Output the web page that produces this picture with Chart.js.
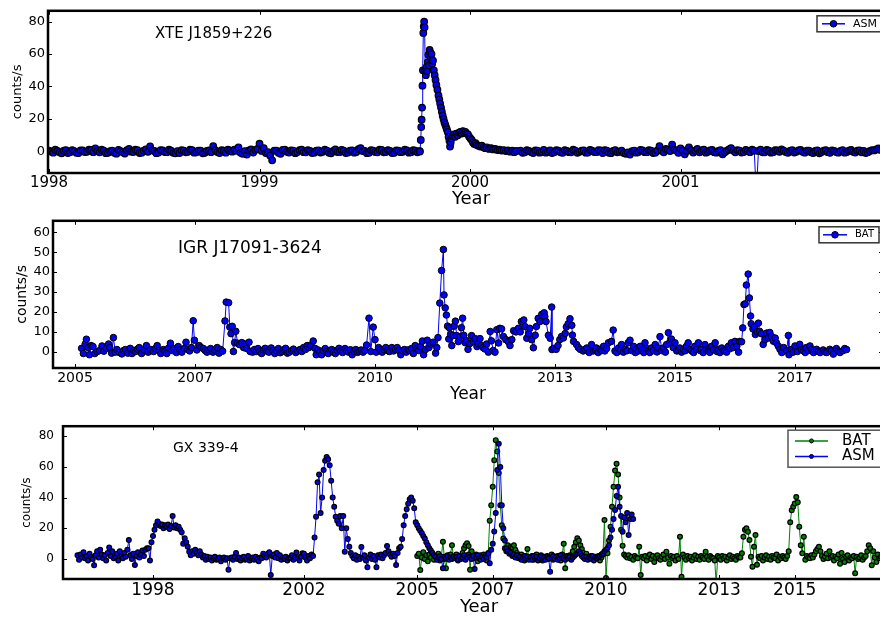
<!DOCTYPE html>
<html>
<head>
<meta charset="utf-8">
<title>X-ray light curves</title>
<script src="https://cdn.jsdelivr.net/npm/chart.js@4.4.1/dist/chart.umd.min.js"></script>
<style>
    html, body { margin: 0; padding: 0; background: #fff; }
    body { width: 880px; height: 618px; overflow: hidden; position: relative; }
    canvas { position: absolute; left: 0; }
    #panel-j1859 { top: 0; }
    #panel-igr { top: 210px; }
    #panel-gx { top: 410px; }
</style>
</head>
<body>
<canvas id="panel-j1859" width="900" height="210"></canvas>
<canvas id="panel-igr" width="900" height="200"></canvas>
<canvas id="panel-gx" width="900" height="208"></canvas>
<script>
// XTE J1859+226 (ASM), quiet part before the outburst, one value every 0.01 yr
const asmJ1859QuietStart = 1998.00;
const asmJ1859Step = 0.01;
const asmJ1859Quiet = [
    0.5, -0.2, -0.8, 1.0, 0.3, -0.6, -1.2, 0.4, 0.8, -1.0,
    -0.5, 0.7, 0.2, -0.9, -1.0, 0.6, 0.6, -0.4, -0.3, 1.1,
    0.9, -0.5, 1.8, 0.3, -0.6, 1.0, 0.4, -1.1, -0.9, 0.2,
    0.5, -0.8, -1.4, 0.9, 0.2, -0.6, -1.3, 0.7, 1.5, -0.2,
    -0.4, 1.0, 0.7, -1.0, -0.8, 0.5, 1.2, -0.3, 3.0, 0.6,
    0.3, -1.1, -0.7, 0.8, 0.6, -0.4, -0.5, 1.0, 0.4, -0.9,
    -1.2, 0.2, -1.0, 0.7, 0.5, -0.6, -0.3, 1.1, 0.8, -0.8,
    -0.6, 0.5, 0.4, -1.2, -0.9, 0.3, 0.6, -0.5, 3.2, 0.8,
    -0.4, -1.0, 0.7, 0.4, -0.8, 1.1, 0.5, -0.2, 1.0, 0.4,
    2.5, -0.9, -1.5, 0.2, -2.0, 0.6, 1.2, -0.7, 0.8, 1.5,
    4.8, 0.3, 2.0, -1.0, -0.5, -2.5, -5.5, 0.5, 0.4, -0.8,
    -1.5, 0.9, 1.0, -0.3, -0.7, 0.6, 0.5, -1.1, -0.4, 0.7,
    1.0, -0.5, -0.6, 0.8, 0.3, -1.0, -0.8, 0.4, 0.6, -0.7,
    -0.3, 1.0, 0.5, -0.9, -1.2, 0.3, 1.2, -0.4, -0.5, 0.9,
    0.4, -1.0, -0.7, 0.5, 0.6, -0.8, -0.4, 1.4, 2.0, 0.2,
    0.3, -1.1, -0.8, 0.7, 0.5, -0.4, -0.6, 1.0, 0.9, -0.6,
    -0.4, 0.8, 0.3, -1.0, -0.9, 0.6, 0.5, -0.5, -0.3, 1.0,
    0.6, -0.8, -0.5, 0.7, 0.4, -0.6, 0.2
];

// the 1999 outburst [year, counts/s]
const asmJ1859Outburst = [
    [1999.762, 0.0], [1999.766, 7.0], [1999.768, 15.0], [1999.770, 19.5], [1999.772, 27.0],
    [1999.774, 40.5], [1999.776, 50.0], [1999.778, 73.0], [1999.780, 77.0], [1999.782, 80.0],
    [1999.784, 76.5], [1999.787, 50.0], [1999.790, 47.0], [1999.793, 52.0], [1999.796, 49.5],
    [1999.799, 55.0], [1999.802, 59.5], [1999.805, 53.0], [1999.808, 62.5], [1999.811, 61.0],
    [1999.814, 57.5], [1999.817, 60.0], [1999.820, 54.0], [1999.824, 56.0], [1999.828, 50.0],
    [1999.832, 47.0], [1999.836, 44.0], [1999.840, 41.0], [1999.845, 38.0], [1999.850, 34.5],
    [1999.854, 32.0], [1999.858, 29.5], [1999.862, 27.0], [1999.866, 24.5], [1999.870, 22.0],
    [1999.874, 20.0], [1999.878, 18.0], [1999.882, 16.5], [1999.886, 15.0], [1999.890, 13.5],
    [1999.894, 12.0], [1999.898, 9.0], [1999.902, 6.5], [1999.905, 3.0], [1999.908, 5.5],
    [1999.912, 8.0], [1999.918, 9.5], [1999.924, 10.5], [1999.930, 9.0], [1999.936, 11.0],
    [1999.942, 10.0], [1999.948, 11.5], [1999.954, 12.0], [1999.960, 11.0], [1999.966, 12.5],
    [1999.972, 11.5], [1999.978, 12.0], [1999.984, 11.0], [1999.990, 10.5], [1999.996, 9.0],
    [2000.002, 8.0], [2000.008, 7.0], [2000.014, 5.5], [2000.020, 4.5], [2000.026, 5.0],
    [2000.032, 4.0], [2000.040, 3.5], [2000.048, 3.0], [2000.056, 3.5], [2000.064, 2.5],
    [2000.072, 2.0], [2000.080, 2.5], [2000.090, 1.5], [2000.100, 2.0], [2000.110, 1.2],
    [2000.120, 1.5], [2000.130, 0.8], [2000.140, 1.0], [2000.150, 0.5], [2000.160, 0.8],
    [2000.170, 0.2], [2000.180, 0.6], [2000.190, -0.2], [2000.200, 0.4], [2000.210, -0.5],
    [2000.220, 0.3]
];

// back to quiescence, 0.01 yr cadence again
const asmJ1859TailStart = 2000.24;
const asmJ1859Tail = [
    0.4, -0.9, -0.6, 0.8, 0.3, -0.4, -1.0, 0.6, 0.5, -0.8,
    -0.4, 0.9, -0.8, -0.3, 0.6, -1.0, -0.5, 0.7, 0.4, -0.6,
    -0.9, 0.8, 0.3, -0.5, -0.6, 1.0, 0.5, -0.9, -0.3, 0.4,
    0.6, -0.8, -0.7, 0.9, 0.4, -0.4, -0.5, 0.7, 0.6, -1.0,
    0.8, 0.5, -0.8, -1.1, 0.3, 0.8, -0.6, -0.2, 0.4, -1.0,
    -1.5, -0.6, -2.0, 0.2, 0.5, -0.8, -0.4, 0.9, 0.6, -0.5,
    -0.5, 0.8, 0.4, -1.0, -0.8, 0.6, 3.2, 0.4, -0.6, 1.5,
    1.0, 0.2, 4.2, 1.0, 0.5, -0.9, 1.8, 0.6, -1.8, 0.3,
    2.5, 0.8, -0.7, 0.4, 1.5, -0.6, 0.4, 1.1, -0.8, -0.3,
    0.6, 0.9, -0.5, -0.8, 0.3, 0.7, -1.8, -0.5, 0.4, 1.2,
    2.0, 0.5, -0.6, 0.8, 0.5, -0.7, -0.4, 0.9, 0.3, -0.5,
    1.0, 0.4, -26.0, 0.2, 1.0, -0.6, -0.6, 0.9, 0.4, -0.8,
    -0.5, 0.8, 0.6, -0.3, 1.2, 0.5, -0.4, -0.9, 0.3, 0.7,
    -0.7, -0.2, 0.6, 0.9, -0.3, -0.8, 0.5, 0.4, -0.6, -1.0,
    0.3, 0.6, -1.2, -0.4, 0.4, 0.8, -0.5, -0.9, 0.6, 0.3,
    -0.4, -0.8, 0.3, 0.7, -0.8, -0.4, 0.5, 0.9, -0.3, -0.7,
    0.4, 0.6, -0.6, 0.3, -1.0, -0.5, 0.3, 0.8, 0.6, 1.2,
    1.8, 0.9, 2.2
];

// IGR J17091-3624 (BAT) [year, counts/s]
const batIgrCurve = [
    [2005.11, 1.6], [2005.14, -1.0], [2005.17, 3.8], [2005.19, 6.2], [2005.22, 2.0], [2005.24, -1.6],
    [2005.27, 3.0], [2005.30, 2.5], [2005.33, -1.0], [2005.37, 0.0], [2005.41, 0.5], [2005.45, 2.8],
    [2005.48, 0.2], [2005.52, 1.5], [2005.56, 3.8], [2005.58, 2.0], [2005.61, -0.8], [2005.64, 7.0],
    [2005.67, -0.3], [2005.70, 1.0], [2005.74, -0.5], [2005.78, -1.2], [2005.81, 0.5], [2005.84, 1.0],
    [2005.88, -0.8], [2005.92, 1.6], [2005.95, -1.0], [2005.98, 0.5], [2006.01, 0.0], [2006.04, 1.2],
    [2006.07, 2.0], [2006.11, -1.0], [2006.15, 0.8], [2006.19, 3.0], [2006.22, -0.3], [2006.26, 1.0],
    [2006.31, 0.0], [2006.34, 1.5], [2006.37, 3.0], [2006.40, 0.5], [2006.43, -1.0], [2006.47, 1.0],
    [2006.50, 0.2], [2006.53, -1.0], [2006.56, 1.8], [2006.59, 4.2], [2006.62, 0.5], [2006.65, 1.5],
    [2006.69, -0.5], [2006.72, 2.5], [2006.75, 0.8], [2006.78, -0.3], [2006.82, 1.5], [2006.85, 4.7],
    [2006.88, 1.0], [2006.91, 0.3], [2006.94, 2.0], [2006.97, 15.5], [2006.99, 5.7], [2007.03, 0.8],
    [2007.07, 3.0], [2007.10, 2.0], [2007.14, 1.5], [2007.17, 0.5], [2007.20, -0.3], [2007.23, 0.8],
    [2007.26, 1.5], [2007.30, -0.3], [2007.33, 0.8], [2007.37, 2.0], [2007.40, -0.8], [2007.43, 1.0],
    [2007.46, 0.2], [2007.50, 15.4], [2007.52, 24.9], [2007.56, 24.6], [2007.58, 12.3], [2007.60, 9.0],
    [2007.62, 12.7], [2007.64, 0.0], [2007.66, 4.5], [2007.68, 10.2], [2007.71, 4.2], [2007.74, 3.5],
    [2007.78, 4.5], [2007.81, 2.0], [2007.83, 3.8], [2007.86, 1.5], [2007.90, 4.7], [2007.92, 0.0],
    [2007.96, -0.3], [2007.99, 1.0], [2008.02, 0.0], [2008.05, 1.5], [2008.08, 0.3], [2008.11, -1.0],
    [2008.14, 0.8], [2008.17, 1.6], [2008.20, 0.2], [2008.23, -0.3], [2008.27, 1.8], [2008.30, 0.5],
    [2008.33, -1.0], [2008.36, 0.4], [2008.39, 1.5], [2008.42, -0.6], [2008.45, 0.0], [2008.48, 0.9],
    [2008.51, 1.6], [2008.54, -0.8], [2008.57, -0.3], [2008.61, 0.5], [2008.64, 1.2], [2008.68, -0.5],
    [2008.71, 0.3], [2008.75, 1.0], [2008.78, 0.0], [2008.81, 2.0], [2008.84, 1.0], [2008.87, 3.0],
    [2008.90, 2.0], [2008.93, 3.2], [2008.97, 5.3], [2009.00, 1.6], [2009.02, -1.6], [2009.05, 0.8],
    [2009.08, -0.3], [2009.11, -1.6], [2009.14, 0.4], [2009.17, 1.5], [2009.20, 0.0], [2009.22, -1.0],
    [2009.25, 0.5], [2009.28, 1.0], [2009.31, -0.4], [2009.34, -1.0], [2009.37, 0.6], [2009.40, 1.6],
    [2009.43, 0.3], [2009.46, -0.5], [2009.50, 1.5], [2009.53, 0.4], [2009.56, -0.3], [2009.59, 0.9],
    [2009.62, -1.6], [2009.65, 0.2], [2009.68, 1.0], [2009.71, -0.4], [2009.74, 0.0], [2009.77, 0.8],
    [2009.80, -0.3], [2009.83, 0.5], [2009.86, 3.3], [2009.90, 16.8], [2009.93, 0.0], [2009.97, 12.3],
    [2010.00, 6.0], [2010.02, -0.3], [2010.06, 2.0], [2010.09, 0.8], [2010.12, -0.3], [2010.15, 1.0],
    [2010.18, 2.0], [2010.21, 0.5], [2010.24, 0.0], [2010.28, 2.0], [2010.31, 0.3], [2010.34, 1.0],
    [2010.37, 2.0], [2010.40, 0.5], [2010.43, -1.6], [2010.46, 0.5], [2010.49, 1.0], [2010.52, -0.3],
    [2010.55, 0.8], [2010.58, 0.5], [2010.61, 1.5], [2010.64, -1.0], [2010.67, 3.0], [2010.70, 1.2],
    [2010.73, 0.5], [2010.76, 2.5], [2010.79, 5.3], [2010.81, -1.6], [2010.84, 1.0], [2010.87, 5.7],
    [2010.90, 2.0], [2010.93, 3.8], [2010.97, 4.7], [2011.01, -0.8], [2011.03, 2.0], [2011.05, 7.0],
    [2011.08, 24.4], [2011.11, 40.8], [2011.14, 51.4], [2011.15, 28.5], [2011.17, 22.0], [2011.19, 18.4],
    [2011.21, 12.8], [2011.23, 6.3], [2011.24, 12.0], [2011.26, 8.6], [2011.28, 3.0], [2011.30, 8.0],
    [2011.32, 12.8], [2011.34, 15.3], [2011.36, 8.0], [2011.39, 5.0], [2011.42, 7.5], [2011.44, 12.0],
    [2011.46, 16.8], [2011.48, 8.2], [2011.50, 4.5], [2011.52, 5.5], [2011.55, 1.1], [2011.58, 4.0],
    [2011.61, 8.0], [2011.64, 4.9], [2011.67, 6.5], [2011.70, 2.5], [2011.72, 4.0], [2011.75, 6.5],
    [2011.77, 3.0], [2011.80, 2.0], [2011.83, 1.3], [2011.86, 3.8], [2011.89, -0.3], [2011.92, 10.1],
    [2011.94, 5.4], [2011.97, 0.5], [2012.00, -0.3], [2012.03, 11.0], [2012.06, 4.3], [2012.08, 11.7],
    [2012.11, 11.4], [2012.14, 7.6], [2012.18, 6.0], [2012.22, 5.0], [2012.25, 3.0], [2012.28, 6.0],
    [2012.31, 10.5], [2012.35, 9.9], [2012.39, 11.7], [2012.42, 9.9], [2012.44, 15.1], [2012.48, 15.9],
    [2012.50, 12.6], [2012.53, 6.7], [2012.56, 9.0], [2012.58, 11.7], [2012.61, 6.0], [2012.64, 1.9],
    [2012.67, 8.2], [2012.69, 12.6], [2012.72, 16.7], [2012.75, 15.1], [2012.78, 18.7], [2012.82, 19.5],
    [2012.83, 17.6], [2012.85, 15.1], [2012.89, 8.2], [2012.92, 6.7], [2012.945, 22.4], [2012.95, 1.0],
    [2012.98, 1.6], [2013.02, 1.1], [2013.05, 3.0], [2013.08, 6.0], [2013.11, 7.6], [2013.14, 6.8],
    [2013.17, 9.1], [2013.19, 12.4], [2013.22, 14.0], [2013.25, 16.5], [2013.28, 13.2], [2013.29, 8.3],
    [2013.31, 5.1], [2013.36, 3.5], [2013.39, 2.0], [2013.42, 1.1], [2013.47, 0.3], [2013.50, 1.0],
    [2013.53, 1.8], [2013.57, -0.5], [2013.61, 3.5], [2013.64, 0.3], [2013.67, 1.0], [2013.69, 1.8],
    [2013.72, -0.5], [2013.75, 1.1], [2013.78, 0.5], [2013.81, 2.6], [2013.83, 0.3], [2013.86, 1.5],
    [2013.89, 4.4], [2013.94, 5.1], [2013.97, 10.8], [2014.00, 0.3], [2014.03, -0.5], [2014.06, 1.8],
    [2014.09, 0.5], [2014.11, 3.5], [2014.14, -0.3], [2014.17, 1.1], [2014.20, 0.4], [2014.22, 4.4],
    [2014.25, 5.7], [2014.28, 0.5], [2014.31, 2.6], [2014.34, -0.5], [2014.36, 1.1], [2014.39, 0.3],
    [2014.42, 2.6], [2014.45, 0.5], [2014.48, -0.5], [2014.50, 4.4], [2014.53, 1.5], [2014.56, 0.3],
    [2014.58, -0.5], [2014.61, 1.8], [2014.64, 0.5], [2014.67, 3.5], [2014.70, -0.2], [2014.72, 1.8],
    [2014.75, 7.5], [2014.78, 0.5], [2014.81, 1.8], [2014.84, -0.3], [2014.86, 3.5], [2014.89, 9.5],
    [2014.92, 4.5], [2014.94, 6.3], [2014.97, 2.0], [2015.00, 4.4], [2015.03, 0.3], [2015.06, 1.0],
    [2015.08, 1.8], [2015.11, -0.3], [2015.14, 1.1], [2015.17, 0.4], [2015.19, 2.6], [2015.22, 4.4],
    [2015.25, 1.0], [2015.28, 0.3], [2015.31, -0.5], [2015.33, 2.6], [2015.36, 1.0], [2015.39, 4.4],
    [2015.42, 0.5], [2015.44, 1.1], [2015.47, -0.5], [2015.50, 3.5], [2015.53, 1.0], [2015.56, 0.3],
    [2015.58, -0.4], [2015.61, 2.6], [2015.64, 0.8], [2015.67, 4.4], [2015.70, 0.0], [2015.72, 1.1],
    [2015.75, -0.5], [2015.78, 1.8], [2015.81, 0.6], [2015.83, 0.3], [2015.86, -0.3], [2015.89, 2.6],
    [2015.92, 1.5], [2015.94, 4.4], [2015.97, 2.0], [2016.00, 5.1], [2016.03, 2.6], [2016.06, -0.3],
    [2016.08, 5.1], [2016.11, 4.9], [2016.13, 11.9], [2016.15, 23.7], [2016.17, 24.0], [2016.19, 33.5],
    [2016.22, 39.0], [2016.24, 27.0], [2016.26, 17.9], [2016.27, 14.0], [2016.30, 11.4], [2016.32, 12.4],
    [2016.34, 8.6], [2016.37, 10.0], [2016.39, 14.3], [2016.41, 10.2], [2016.44, 9.0], [2016.47, 3.6],
    [2016.50, 6.0], [2016.53, 9.3], [2016.56, 6.8], [2016.58, 9.6], [2016.61, 7.6], [2016.64, 5.2],
    [2016.67, 6.8], [2016.69, 4.4], [2016.72, 2.8], [2016.75, 1.1], [2016.78, -0.5], [2016.81, 2.0],
    [2016.86, 0.4], [2016.89, 8.1], [2016.90, -1.6], [2016.94, 1.0], [2016.97, -0.3], [2017.00, 2.8],
    [2017.04, 0.0], [2017.08, 3.6], [2017.11, 1.0], [2017.14, 0.4], [2017.17, -0.5], [2017.19, 2.0],
    [2017.22, 0.5], [2017.25, 2.8], [2017.28, 1.0], [2017.31, -0.5], [2017.36, 1.1], [2017.39, 0.0],
    [2017.42, -0.5], [2017.47, 0.8], [2017.50, -0.2], [2017.53, -0.5], [2017.58, 1.1], [2017.61, 0.3],
    [2017.64, -1.3], [2017.69, 1.5], [2017.72, 0.2], [2017.75, -0.5], [2017.80, 0.4], [2017.83, 1.5],
    [2017.86, 1.0]
];

// GX 339-4, 0.04 yr cadence, one row per year
const gxStep = 0.04;
const asmGxStart = 1996.00;
const asmGxRates = [
    2.5, -0.5, 3.0, 1.0, 4.5, 0.5, 2.0, -1.0, 3.5, 1.5, 0.0, -4.0, 2.5, 5.0, 1.0, 6.0, 3.0, 0.5, 2.5, -1.0, 4.0, 7.5, 2.0, 5.0, 0.5,
    1.5, 3.5, -1.0, 5.0, 2.0, 0.5, 4.0, 1.5, 6.0, 12.4, 2.5, 0.0, 3.5, -3.9, 2.0, 4.5, 1.0, 3.0, 5.5, 2.0, 6.0, 7.0, 7.0, -1.0, 11.0,
    15.0, 19.0, 22.0, 24.5, 23.0, 21.5, 22.5, 20.0, 22.0, 21.0, 22.5, 19.5, 21.5, 28.0, 20.5, 22.0, 20.0, 21.0, 19.0, 17.5, 10.0, 13.5, 11.0, 8.0, 4.8,
    2.5, 5.0, 3.5, 6.0, 4.0, 2.5, 5.0, 3.0, 1.0, 2.0, -0.5, 1.5, 0.0, 1.0, -1.0, 0.5, 1.5, -0.5, 0.0, 1.0, -1.5, 0.5, 1.0, -0.5, 0.5,
    -7.0, 0.5, 1.0, -0.5, 1.5, 4.0, 0.0, 1.0, -1.0, 0.5, 1.5, -0.5, 0.0, 2.0, -1.0, 0.5, 1.0, -0.5, 1.5, 0.0, -1.5, 1.0, 0.5, 3.5, 2.0,
    1.0, 3.5, 4.5, -10.4, 2.0, 3.0, 1.0, 4.0, 0.5, 2.5, -0.5, 1.0, 0.0, 1.5, -1.0, 0.5, 1.0, 2.5, -0.5, 1.0, 4.3, 0.5, -1.0, 1.5, 3.7,
    3.5, 1.0, -1.0, 2.0, 0.5, 3.0, 2.0, 14.0, 27.6, 50.0, 55.0, 30.0, 40.0, 58.0, 64.0, 66.5, 65.0, 61.0, 51.0, 40.0, 34.0, 27.6, 25.0, 23.0, 28.0,
    20.0, 28.0, 4.8, 20.0, 13.0, 8.0, 4.0, 2.0, 0.5, 2.5, -0.5, 1.5, 0.0, 7.9, 1.0, 2.5, -1.0, -5.3, 1.0, 3.0, 0.0, 2.0, -0.5, -5.3, 2.5,
    1.0, 3.0, 0.5, 2.5, 4.0, 8.5, 5.0, 3.0, 1.5, 3.5, 2.0, -3.9, 4.0, 7.0, 8.0, 13.0, 22.0, 28.0, 32.5, 36.0, 39.0, 40.0, 38.0, 33.0, 24.0,
    22.0, 20.0, 18.5, 17.0, 15.0, 13.4, 11.0, 9.0, 7.0, 5.5, 4.0, 2.5, 1.5, -0.5, 1.0, 2.0, 0.0, -6.0, 1.5, 0.5, 2.0, -0.5, 1.0, 0.0, 1.5,
    0.5, 1.5, -0.5, 2.0, 0.0, 1.0, 2.5, -0.5, 1.0, 3.0, 1.5, 0.0, 2.0, -6.5, 1.0, 2.5, 0.5, -0.5, 1.5, 0.0, 2.0, 1.0, 3.5, -2.8, 6.0,
    10.0, 18.0, 30.0, 58.0, 75.0, 60.0, 35.0, 20.0, 12.0, 7.0, 5.0, 3.5, 4.0, 2.0, 3.0, 1.0, 2.5, 0.5, 1.5, -0.5, 1.0, 2.0, 0.0, 1.5, -0.5,
    1.0, -0.5, 2.0, 0.5, 1.5, -1.0, 0.5, 2.0, 0.0, 1.0, -0.5, 1.5, 0.5, -8.2, 1.0, 2.0, 0.0, 1.5, -0.5, 1.0, 2.5, 0.5, 1.0, -0.5, 1.5,
    0.5, 1.5, -0.5, 1.0, 2.0, 3.0, 4.0, 5.0, 3.5, 2.0, 1.0, 0.0, 1.5, -0.5, 1.0, 0.5, 2.0, -1.0, 1.0, 0.5, 1.5, 2.0, 3.0, 3.7, 5.0,
    6.0, 7.0, 9.0, 14.0, 19.0, 26.0, 32.0, 41.0, 47.0, 34.0, 28.0, 17.8, 27.0, 24.0, 30.0, 15.6, 26.0, 29.0, 26.0
];

const batGxStart = 2005.00;
const batGxRates = [
    2.0, 3.5, -7.2, 1.0, 4.5, 0.0, 2.5, -1.5, 3.0, 1.0, 4.0, -0.5, 2.0, 0.5, 3.5, -1.0, 1.5, 11.3, 0.0, -6.0, 2.5, 1.0, 3.0, 9.0, 1.5,
    1.0, 3.0, -1.0, 2.0, 0.5, 4.0, 7.0, 9.0, 10.2, 8.5, -7.0, 5.0, 2.0, 0.5, 3.0, -1.5, 1.5, 2.5, 0.0, 3.0, 1.0, -1.0, 4.0, 25.0, 35.0,
    47.0, 64.4, 77.4, 70.0, 56.0, 35.0, 22.0, 13.4, 7.0, 5.0, 9.0, 6.0, 8.0, 7.5, 9.0, 6.0, 4.0, 2.5, 1.0, 3.0, 0.5, -1.0, 2.0, 6.5, 1.0,
    0.5, 2.0, -0.5, 1.5, 3.0, 0.0, 1.0, 2.5, -1.0, 1.5, 0.5, 2.0, 0.0, 1.0, 3.0, -0.5, 1.5, 0.5, 2.0, 1.0, -1.0, 3.0, 10.0, -6.0, 2.0,
    1.0, 2.5, 0.5, 5.0, 8.0, 11.0, 13.5, 12.0, 9.0, 6.5, 4.0, 2.0, 3.5, 1.0, 0.0, 2.0, 1.0, -0.5, 1.5, 0.5, 2.0, -1.0, 1.0, 3.0, 25.4,
    -12.4, 3.7, 12.0, 21.0, 34.0, 47.0, 57.6, 62.0, 55.0, 40.0, 19.0, 8.7, 3.0, 2.0, 1.0, 2.5, 0.5, 1.5, -0.5, 2.0, 1.0, 0.5, 8.0, -10.4, 1.5,
    0.5, 2.0, -1.0, 1.5, 3.0, 0.0, 2.0, -2.0, 1.0, 2.5, 0.5, -0.5, 1.5, 3.0, 0.0, 4.8, 1.0, -3.0, 2.0, 0.5, 1.5, -1.0, 2.0, 0.0, 14.5,
    -11.5, 3.0, 1.0, -0.5, 2.0, 0.5, 1.5, -1.0, 1.0, 2.5, 0.0, 1.5, -0.5, 2.0, 1.0, 0.0, 4.8, 1.5, -0.5, 2.0, 1.0, 0.5, -1.0, -16.0, 2.0,
    1.0, -0.5, 2.0, 0.5, 1.5, -1.0, 1.0, 2.5, 0.0, 1.5, 0.5, -0.5, 2.0, 1.0, 1.0, 3.7, 14.5, 19.0, 20.0, 17.8, 12.4, 1.5, -5.0, 8.0, 15.6,
    -3.7, 1.5, 0.5, 2.0, -1.0, 1.0, 2.5, 0.0, 1.5, -0.5, 2.0, 1.0, 0.5, 3.0, -1.0, 1.5, 0.5, 2.0, 1.0, 0.0, 2.0, 5.0, 24.0, 31.8, 34.0,
    36.1, 40.4, 37.0, 21.0, 9.0, 3.7, 14.5, -0.5, 2.0, 1.0, 0.5, 2.5, 1.0, 3.0, 5.0, 6.5, 8.0, 5.0, 2.0, 0.0, 1.5, 3.5, 0.5, 5.0, 1.0,
    2.0, -1.0, 1.5, 0.5, 3.0, -3.0, 4.0, 0.0, -2.0, 1.5, 2.5, -1.0, 1.0, 0.5, 2.0, -9.3, 1.5, 0.0, 1.0, 2.5, -0.5, 1.0, 2.0, 5.0, 9.0,
    7.0, -4.0, 5.0, 1.0, -2.0, 3.0, 0.5, 1.5, 2.0, -0.5, 1.0, 0.5, 2.0, 0.0, 1.5, 1.0, 0.5, 1.5
];

// axis ticks
const j1859YearTicks = [1998, 1999, 2000, 2001];
const igrYearTicks = [2005, 2007, 2010, 2013, 2015, 2017];
const gxYearTicks = [1998, 2002, 2005, 2007, 2010, 2013, 2015];
const countTicksBy20 = [0, 20, 40, 60, 80];
const countTicksBy10 = [0, 10, 20, 30, 40, 50, 60];

const FONT = "'DejaVu Sans', 'Liberation Sans', sans-serif";
const ASM_BLUE = '#0000ff';
const BAT_GREEN = '#008000';

function cadence(start, step, values) {
    return values.map((v, i) => ({ x: Math.round((start + i * step) * 1000) / 1000, y: v }));
}

function fromPairs(list) {
    return list.map(([x, y]) => ({ x, y }));
}

// box with inward ticks on all four sides
const framePlugin = {
    id: 'frame',
    afterDatasetsDraw(chart, args, opts) {
        const { ctx, chartArea: a, scales } = chart;
        ctx.save();
        ctx.strokeStyle = '#000';
        ctx.lineWidth = 1;
        ctx.beginPath();
        scales.x.ticks.forEach(t => {
            const px = Math.round(scales.x.getPixelForValue(t.value)) + 0.5;
            ctx.moveTo(px, a.bottom); ctx.lineTo(px, a.bottom - opts.tickLen);
            ctx.moveTo(px, a.top); ctx.lineTo(px, a.top + opts.tickLen);
        });
        scales.y.ticks.forEach(t => {
            const py = Math.round(scales.y.getPixelForValue(t.value)) + 0.5;
            ctx.moveTo(a.left, py); ctx.lineTo(a.left + opts.tickLen, py);
            ctx.moveTo(a.right, py); ctx.lineTo(a.right - opts.tickLen, py);
        });
        ctx.stroke();
        ctx.lineWidth = opts.lineWidth;
        ctx.strokeRect(a.left, a.top, a.right - a.left, a.bottom - a.top);
        ctx.restore();
    }
};

// matplotlib-like legend box in the upper right corner
const boxLegendPlugin = {
    id: 'boxLegend',
    afterDraw(chart, args, opts) {
        const { ctx, chartArea: a } = chart;
        const sets = chart.data.datasets;
        const left = a.right - opts.right;
        const top = a.top + opts.top;
        const height = opts.pad * 2 + opts.rowHeight * sets.length;
        ctx.save();
        ctx.fillStyle = '#fff';
        ctx.fillRect(left, top, opts.width, height);
        ctx.strokeStyle = opts.borderColor;
        ctx.lineWidth = opts.borderWidth;
        ctx.strokeRect(left, top, opts.width, height);
        ctx.font = `${opts.size}px ${FONT}`;
        ctx.textBaseline = 'middle';
        sets.forEach((ds, i) => {
            const y = top + opts.pad + opts.rowHeight * (i + 0.5);
            const x0 = left + opts.lineStart;
            ctx.strokeStyle = ds.borderColor;
            ctx.lineWidth = opts.lineWidth;
            ctx.beginPath();
            ctx.moveTo(x0, y);
            ctx.lineTo(x0 + opts.lineLen, y);
            ctx.stroke();
            ctx.beginPath();
            ctx.arc(x0 + opts.lineLen / 2, y, opts.marker, 0, Math.PI * 2);
            ctx.fillStyle = ds.pointBackgroundColor;
            ctx.fill();
            ctx.strokeStyle = '#000';
            ctx.lineWidth = 1;
            ctx.stroke();
            ctx.fillStyle = '#000';
            ctx.fillText(ds.label, x0 + opts.lineLen + opts.textGap, y);
        });
        ctx.restore();
    }
};

// source name written inside the plot
const sourceLabelPlugin = {
    id: 'sourceLabel',
    afterDraw(chart, args, opts) {
        const { ctx, chartArea: a } = chart;
        ctx.save();
        ctx.font = `${opts.size}px ${FONT}`;
        ctx.fillStyle = '#000';
        ctx.textBaseline = 'middle';
        ctx.fillText(opts.text, a.left + opts.dx, a.top + opts.dy);
        ctx.restore();
    }
};

function curveDataset(label, points, color, radius, edge, order) {
    return {
        label: label,
        data: points,
        order: order,
        borderColor: color,
        borderWidth: 1,
        pointBackgroundColor: color,
        pointBorderColor: '#000',
        pointBorderWidth: edge,
        pointRadius: radius,
        pointHoverRadius: radius,
        tension: 0,
        fill: false,
        clip: 0
    };
}

class LightCurvePanels {
    constructor() {
        this.charts = [];
    }

    initialize() {
        this.createJ1859Panel();
        this.createIgrPanel();
        this.createGxPanel();
    }

    buildChart(canvasId, p) {
        const ctx = document.getElementById(canvasId).getContext('2d');
        const chart = new Chart(ctx, {
            type: 'line',
            data: { datasets: p.datasets },
            options: {
                responsive: false,
                animation: false,
                devicePixelRatio: 1,
                events: [],
                layout: { padding: p.padding },
                plugins: {
                    legend: { display: false },
                    tooltip: { enabled: false },
                    frame: { lineWidth: 2.5, tickLen: 4 },
                    boxLegend: p.legend,
                    sourceLabel: p.label
                },
                scales: {
                    x: {
                        type: 'linear',
                        min: p.x.min,
                        max: p.x.max,
                        afterBuildTicks: s => { s.ticks = p.x.ticks.map(v => ({ value: v })); },
                        afterFit: s => { s.height = p.x.height; },
                        grid: { display: false, drawTicks: false },
                        border: { display: false },
                        ticks: {
                            color: '#000',
                            padding: p.x.tickPad,
                            maxRotation: 0,
                            autoSkip: false,
                            font: { family: FONT, size: p.x.tickSize },
                            callback: v => String(v)
                        },
                        title: {
                            display: true,
                            text: 'Year',
                            color: '#000',
                            font: { family: FONT, size: p.x.titleSize },
                            padding: { top: 0, bottom: p.x.titlePad }
                        }
                    },
                    y: {
                        type: 'linear',
                        min: p.y.min,
                        max: p.y.max,
                        afterBuildTicks: s => { s.ticks = p.y.ticks.map(v => ({ value: v })); },
                        afterFit: s => { s.width = p.y.width; },
                        grid: { display: false, drawTicks: false },
                        border: { display: false },
                        ticks: {
                            color: '#000',
                            padding: p.y.tickPad,
                            font: { family: FONT, size: p.y.tickSize },
                            callback: v => String(v)
                        },
                        title: {
                            display: true,
                            text: 'counts/s',
                            color: '#000',
                            font: { family: FONT, size: p.y.titleSize },
                            padding: { top: 4, bottom: 0 }
                        }
                    }
                }
            },
            plugins: [framePlugin, boxLegendPlugin, sourceLabelPlugin]
        });
        this.charts.push(chart);
    }

    createJ1859Panel() {
        const points = [
            ...cadence(asmJ1859QuietStart, asmJ1859Step, asmJ1859Quiet),
            ...fromPairs(asmJ1859Outburst),
            ...cadence(asmJ1859TailStart, asmJ1859Step, asmJ1859Tail)
        ];
        this.buildChart('panel-j1859', {
            datasets: [curveDataset('ASM', points, ASM_BLUE, 3.3, 1.2, 0)],
            padding: { left: 6, right: 6, top: 8, bottom: 0 },
            x: { min: 1997.995, max: 2002.014, ticks: j1859YearTicks, height: 37, tickPad: 1, tickSize: 15, titleSize: 18, titlePad: 0 },
            y: { min: -13.33, max: 86.67, ticks: countTicksBy20, width: 42, tickPad: 3, tickSize: 13, titleSize: 13 },
            legend: { right: 77, top: 5, width: 80, pad: 0, rowHeight: 16, size: 11, lineStart: 5, lineLen: 23, textGap: 8, marker: 3.3, lineWidth: 1.5, borderColor: '#333', borderWidth: 1.5 },
            label: { text: 'XTE J1859+226', dx: 107, dy: 23.5, size: 15 }
        });
    }

    createIgrPanel() {
        this.buildChart('panel-igr', {
            datasets: [curveDataset('BAT', fromPairs(batIgrCurve), ASM_BLUE, 3.3, 1, 0)],
            padding: { left: 10, right: 17, top: 6, bottom: 0 },
            x: { min: 2004.633, max: 2018.467, ticks: igrYearTicks, height: 42, tickPad: 1.5, tickSize: 14, titleSize: 17, titlePad: 5 },
            y: { min: -8.29, max: 65.85, ticks: countTicksBy10, width: 43, tickPad: 3, tickSize: 13, titleSize: 14 },
            legend: { right: 64, top: 6, width: 60, pad: 0, rowHeight: 16, size: 10, lineStart: 4, lineLen: 24, textGap: 8, marker: 3.3, lineWidth: 1.5, borderColor: '#333', borderWidth: 1.5 },
            label: { text: 'IGR J17091-3624', dx: 125, dy: 27.5, size: 17 }
        });
    }

    createGxPanel() {
        this.buildChart('panel-gx', {
            datasets: [
                curveDataset('BAT', cadence(batGxStart, gxStep, batGxRates), BAT_GREEN, 2.4, 1.2, 1),
                curveDataset('ASM', cadence(asmGxStart, gxStep, asmGxRates), ASM_BLUE, 2.4, 1.2, 0)
            ],
            padding: { left: 16, right: 5, top: 16, bottom: 0 },
            x: { min: 1995.616, max: 2017.656, ticks: gxYearTicks, height: 39, tickPad: 1, tickSize: 17, titleSize: 18, titlePad: 0 },
            y: { min: -13.0, max: 86.5, ticks: countTicksBy20, width: 47, tickPad: 9, tickSize: 12, titleSize: 12 },
            legend: { right: 107, top: 4, width: 120, pad: 3, rowHeight: 15.5, size: 15, lineStart: 7, lineLen: 33, textGap: 14, marker: 2, lineWidth: 1.5, borderColor: '#555', borderWidth: 1.5 },
            label: { text: 'GX 339-4', dx: 110, dy: 22, size: 14 }
        });
    }
}

const lightCurves = new LightCurvePanels();
lightCurves.initialize();
</script>
</body>
</html>
